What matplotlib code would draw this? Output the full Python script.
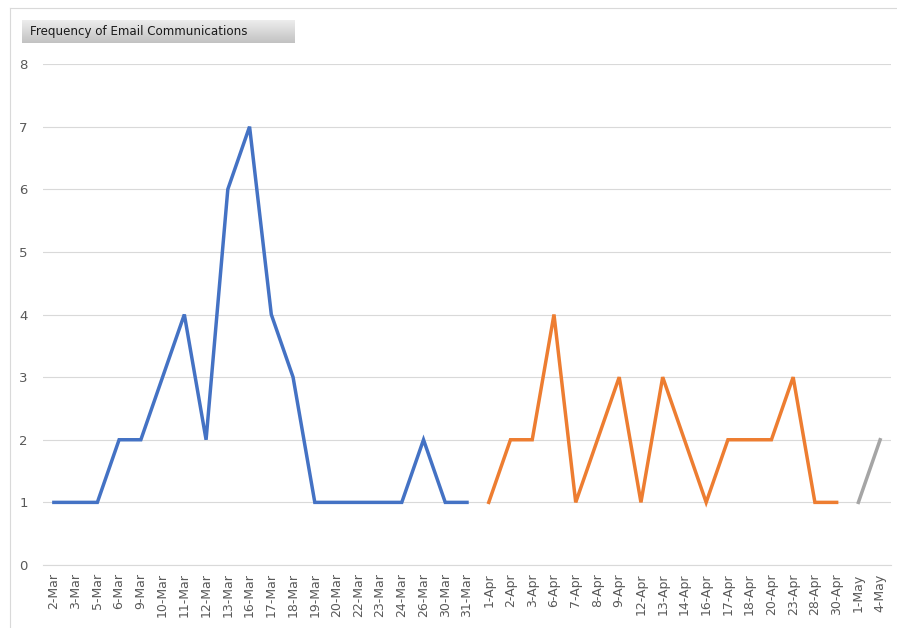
import matplotlib
matplotlib.use("Agg")
import matplotlib.pyplot as plt
import numpy as np
from matplotlib.lines import Line2D

categories = ["2-Mar", "3-Mar", "5-Mar", "6-Mar", "9-Mar", "10-Mar", "11-Mar", "12-Mar",
              "13-Mar", "16-Mar", "17-Mar", "18-Mar", "19-Mar", "20-Mar", "22-Mar", "23-Mar",
              "24-Mar", "26-Mar", "30-Mar", "31-Mar",
              "1-Apr", "2-Apr", "3-Apr", "6-Apr", "7-Apr", "8-Apr", "9-Apr", "12-Apr",
              "13-Apr", "14-Apr", "16-Apr", "17-Apr", "18-Apr", "20-Apr", "23-Apr", "28-Apr",
              "30-Apr", "1-May", "4-May"]
march_vals = [1, 1, 1, 2, 2, 3, 4, 2, 6, 7, 4, 3, 1, 1, 1, 1, 1, 2, 1, 1]
april_vals = [1, 2, 2, 4, 1, 2, 3, 1, 3, 2, 1, 2, 2, 2, 3, 1, 1]
may_vals = [1, 2]
y_ticks = [0, 1, 2, 3, 4, 5, 6, 7, 8]
title = "Frequency of Email Communications"

fig = plt.figure(figsize=(8.97, 6.28), dpi=100)
ax = fig.add_axes([43/897, 1-565/628, (891-43)/897, (565-64)/628])

n = len(categories)
x = np.arange(n)
n1, n2 = len(march_vals), len(april_vals)
ax.plot(x[:n1], march_vals, color="#4472C4", lw=2.5, solid_joinstyle="miter", zorder=3)
ax.plot(x[n1:n1+n2], april_vals, color="#ED7D31", lw=2.5, solid_joinstyle="miter", zorder=3)
ax.plot(x[n1+n2:], may_vals, color="#A5A5A5", lw=2.5, solid_joinstyle="miter", zorder=3)

ax.set_xlim(-0.5, n-0.5)
ax.set_ylim(0, 8)
ax.set_yticks(y_ticks)
ax.set_xticks(x)
ax.set_xticklabels(categories, rotation=90, fontsize=9, color="#595959")
ax.tick_params(axis="y", labelsize=9.5, labelcolor="#595959", length=0, pad=11)
ax.tick_params(axis="x", length=0, pad=6)
ax.grid(axis="y", color="#D9D9D9", lw=0.8)
ax.set_axisbelow(True)
for s in ["top", "right", "left"]:
    ax.spines[s].set_visible(False)
ax.spines["bottom"].set_color("#D9D9D9")
ax.spines["bottom"].set_linewidth(0.8)

# title button with gradient
tax = fig.add_axes([22/897, 1-43/628, (294-22)/897, (43-20)/628])
grad = np.linspace(0.93, 0.76, 50).reshape(-1, 1)
tax.imshow(np.dstack([grad, grad, grad]), aspect="auto", extent=[0, 1, 0, 1])
tax.set_xlim(0, 1); tax.set_ylim(0, 1)
tax.set_xticks([]); tax.set_yticks([])
for s in tax.spines.values():
    s.set_visible(False)
tax.text(0.03, 0.5, title, fontsize=8.6, color="#1a1a1a", va="center", ha="left",
         family="DejaVu Sans")

# outer frame lines
fig.add_artist(Line2D([10/897, 10/897], [0, 1-8/628], transform=fig.transFigure,
                      color="#D9D9D9", lw=0.8))
fig.add_artist(Line2D([10/897, 1], [1-8/628, 1-8/628], transform=fig.transFigure,
                      color="#D9D9D9", lw=0.8))

fig.savefig("out.png", dpi=100)
